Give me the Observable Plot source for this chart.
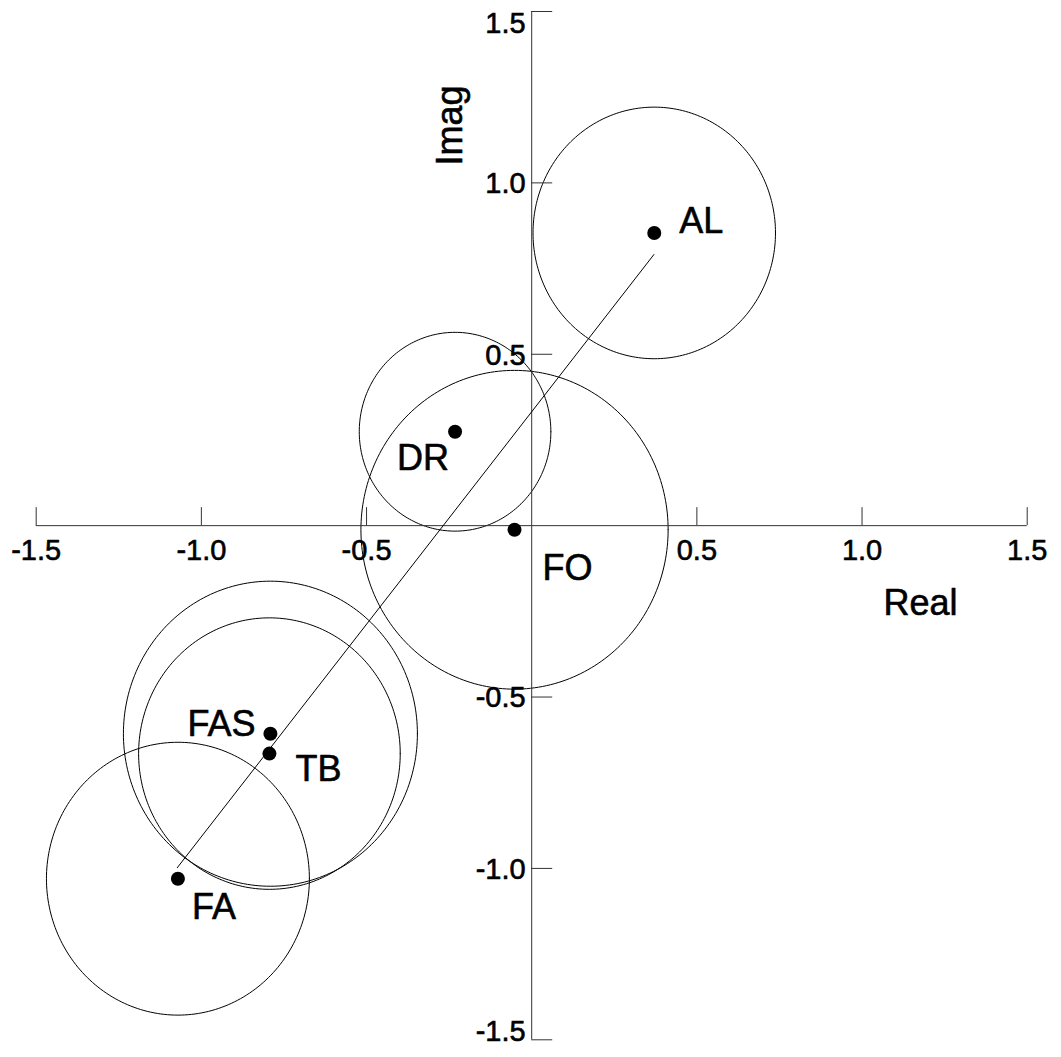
<!DOCTYPE html>
<html><head><meta charset="utf-8">
<script src="https://cdn.jsdelivr.net/npm/d3@7"></script>
<script src="https://cdn.jsdelivr.net/npm/@observablehq/plot@0.6"></script>
<style>body{margin:0;background:#fff} svg{display:block}</style>
</head><body><div id="chart"></div>
<script>
// ---- data ----
const names = ["AL", "DR", "FO", "FAS", "TB", "FA"];
const realValues = [0.371, -0.232, -0.052, -0.791, -0.794, -1.071];
const imagValues = [0.854, 0.274, -0.012, -0.607, -0.665, -1.030];
const radii = [0.367, 0.290, 0.465, 0.445, 0.396, 0.398];
const lineReal = [-1.073, 0.370];
const lineImag = [-0.998, 0.791];
const xTickValues = [-1.5, -1.0, -0.5, 0.5, 1.0, 1.5];
const xTickLabels = ["-1.5", "-1.0", "-0.5", "0.5", "1.0", "1.5"];
const yTickValues = [1.5, 1.0, 0.5, -0.5, -1.0, -1.5];
const yTickLabels = ["1.5", "1.0", "0.5", "-0.5", "-1.0", "-1.5"];
const axisDomain = [-1.5, 1.5];
const xTitle = "Real";
const yTitle = "Imag";

// ---- layout / style ----
const W = 1061, H = 1057;
const mL = 35.7, mR = 34.3, mT = 11, mB = 17.7;
const pxX = (W - mL - mR) / (axisDomain[1] - axisDomain[0]);
const pxY = (H - mT - mB) / (axisDomain[1] - axisDomain[0]);
const font = "Liberation Sans, Arial, Helvetica, sans-serif";
const axisColor = "#333";
const txt = {fill: "black", stroke: "black", strokeWidth: 0.6};
const labelStyle = {
  AL:  {anchor: "start", dx: 25,  dy: -11},
  DR:  {anchor: "end",   dx: -6,  dy: 27},
  FO:  {anchor: "start", dx: 28,  dy: 39},
  FAS: {anchor: "end",   dx: -15, dy: -9},
  TB:  {anchor: "start", dx: 26,  dy: 15.5},
  FA:  {anchor: "start", dx: 14,  dy: 29}
};

const points = names.map((n, i) => ({name: n, re: realValues[i], im: imagValues[i], r: radii[i]}));
// circle outlines (radius in data units) drawn as closed lines
const circlePts = [];
points.forEach(p => {
  for (let k = 0; k <= 240; k++) {
    const a = 2 * Math.PI * k / 240;
    circlePts.push({name: p.name, re: p.re + p.r * Math.cos(a), im: p.im + p.r * Math.sin(a)});
  }
});
const fitLine = lineReal.map((x, i) => ({re: x, im: lineImag[i]}));

const chart = Plot.plot({
  width: W, height: H,
  marginLeft: mL, marginRight: mR, marginTop: mT, marginBottom: mB,
  x: {domain: axisDomain, axis: null},
  y: {domain: axisDomain, axis: null},
  style: {fontFamily: font, background: "white", overflow: "visible"},
  marks: [
    Plot.line(circlePts, {x: "re", y: "im", z: "name", stroke: "black", strokeWidth: 1}),
    Plot.ruleY([0], {x1: axisDomain[0], x2: axisDomain[1], stroke: axisColor, strokeWidth: 1}),
    Plot.ruleX([0], {y1: axisDomain[0], y2: axisDomain[1], stroke: axisColor, strokeWidth: 1}),
    Plot.ruleX(xTickValues, {x: d => d, y1: 0, y2: 18 / pxY, stroke: axisColor, strokeWidth: 1}),
    Plot.ruleY(yTickValues, {y: d => d, x1: 0, x2: 21 / pxX, stroke: axisColor, strokeWidth: 1}),
    Plot.text(xTickValues, {x: d => d, y: 0, text: (d, i) => xTickLabels[i], dy: 25, fontSize: 29, textAnchor: "middle", ...txt}),
    Plot.text(yTickValues.slice(1, -1), {x: 0, y: d => d, text: (d, i) => yTickLabels[i + 1], dx: -6, dy: 1, fontSize: 29, textAnchor: "end", ...txt}),
    Plot.text([yTickValues[0]], {x: 0, y: d => d, text: [yTickLabels[0]], dx: -6, dy: 12, fontSize: 29, textAnchor: "end", ...txt}),
    Plot.text([yTickValues[yTickValues.length - 1]], {x: 0, y: d => d, text: [yTickLabels[yTickLabels.length - 1]], dx: -6, dy: -8, fontSize: 29, textAnchor: "end", ...txt}),
    Plot.line(fitLine, {x: "re", y: "im", stroke: "black", strokeWidth: 1}),
    Plot.dot(points, {x: "re", y: "im", r: 7, fill: "black", stroke: null}),
    ...points.map(p => Plot.text([p], {
      x: "re", y: "im", text: "name",
      dx: labelStyle[p.name].dx, dy: labelStyle[p.name].dy,
      textAnchor: labelStyle[p.name].anchor, fontSize: 36, ...txt
    })),
    Plot.text([xTitle], {frameAnchor: "right", text: d => d, textAnchor: "end", dx: -69.7, dy: 78, fontSize: 36, ...txt}),
    Plot.text([yTitle], {frameAnchor: "top", text: d => d, rotate: -90, textAnchor: "middle", dx: -95, dy: 114, fontSize: 36, ...txt})
  ]
});
document.getElementById("chart").appendChild(chart);
</script>
</body></html>
